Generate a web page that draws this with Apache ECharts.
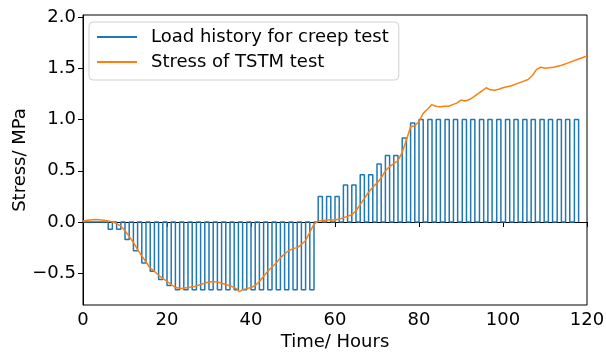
<!DOCTYPE html>
<html>
<head>
<meta charset="utf-8">
<script src="https://cdn.jsdelivr.net/npm/echarts@6/dist/echarts.min.js"></script>
<style>
  html, body { margin: 0; padding: 0; background: #fff; }
  #chart { width: 606px; height: 352px; }
</style>
</head>
<body>
<div id="chart"></div>
<script>
// Creep-test load pulses: start hour and stress level (MPa); each pulse lasts pulseLength hours
const pulseLength = 1;
const pulseStart = [
  6, 8, 10, 12, 14, 16, 18, 20, 22, 24, 26, 28, 30, 32, 34, 36, 38, 40, 42, 44, 46, 48, 50, 52, 54,
  56, 58, 60, 62, 64, 66, 68, 70, 72, 74, 76, 78,
  80, 82.1, 84.1, 86.2, 88.2, 90.3, 92.3, 94.4, 96.4, 98.5, 100.6, 102.6, 104.7, 106.7, 108.8,
  110.8, 112.9, 114.9, 117
];
const pulseLevel = [
  -0.07, -0.07, -0.17, -0.28, -0.40, -0.48, -0.56, -0.62, -0.66, -0.66, -0.66, -0.66, -0.66,
  -0.66, -0.66, -0.66, -0.66, -0.66, -0.66, -0.66, -0.66, -0.66, -0.66, -0.66, -0.66,
  0.25, 0.25, 0.25, 0.36, 0.36, 0.46, 0.46, 0.565, 0.65, 0.65, 0.82, 0.965,
  1.0, 1.0, 1.0, 1.0, 1.0, 1.0, 1.0, 1.0, 1.0, 1.0, 1.0, 1.0, 1.0, 1.0, 1.0, 1.0, 1.0, 1.0, 1.0
];

// Measured TSTM stress (MPa) over time (hours)
const stressTime = [
  0, 1.5, 3, 4.5, 6, 7.5, 9, 10, 11, 12, 13, 14, 15, 16, 17, 18, 19, 20, 21, 22, 23.5, 25,
  26.5, 28, 29.5, 31, 32.5, 34, 35.5, 36.5, 37.2, 38, 39, 40, 41, 42, 43, 44, 45, 46, 47, 48,
  49, 50, 51, 52, 53, 54, 55, 56, 57, 58.5, 60, 61.5, 63, 64, 65, 66, 67, 68, 69, 70, 71, 72,
  73, 74, 75, 76, 77, 78, 79, 80, 81, 82, 83, 84, 85, 86, 87, 88, 89, 90, 91, 92, 93, 94, 95,
  96, 97, 98, 99, 100, 102, 104, 106, 107, 108, 109, 110, 112, 114, 116, 118, 120
];
const stressValue = [
  0.01, 0.02, 0.025, 0.02, 0.01, -0.005, -0.04, -0.085, -0.14, -0.20, -0.27, -0.33, -0.39,
  -0.45, -0.48, -0.52, -0.55, -0.58, -0.61, -0.64, -0.65, -0.64, -0.63, -0.61, -0.59, -0.58,
  -0.59, -0.61, -0.63, -0.65, -0.68, -0.66, -0.65, -0.64, -0.62, -0.58, -0.53, -0.48, -0.44,
  -0.40, -0.35, -0.31, -0.28, -0.26, -0.25, -0.22, -0.18, -0.10, -0.02, 0.01, 0.015, 0.02,
  0.02, 0.035, 0.055, 0.07, 0.11, 0.17, 0.23, 0.29, 0.34, 0.38, 0.43, 0.50, 0.54, 0.57, 0.60,
  0.68, 0.80, 0.93, 0.94, 0.98, 1.06, 1.10, 1.145, 1.13, 1.125, 1.13, 1.13, 1.145, 1.16, 1.19,
  1.18, 1.195, 1.22, 1.25, 1.28, 1.31, 1.29, 1.285, 1.295, 1.31, 1.33, 1.36, 1.39, 1.43, 1.49,
  1.51, 1.50, 1.51, 1.53, 1.56, 1.59, 1.62
];

// Y tick labels
const yTicks = [-0.5, 0.0, 0.5, 1.0, 1.5, 2.0];

// Square-wave outline of the load history
const loadData = [[0, 0]];
pulseStart.forEach((s, i) => {
  const L = pulseLevel[i];
  loadData.push([s, 0], [s, L], [s + pulseLength, L], [s + pulseLength, 0]);
});
const stressData = stressTime.map((t, i) => [t, stressValue[i]]);

const font = 'DejaVu Sans';
const fs = 18;
const chart = echarts.init(document.getElementById('chart'), null, { renderer: 'canvas' });
chart.setOption({
  animation: false,
  backgroundColor: '#fff',
  textStyle: { fontFamily: font },
  grid: {
    left: 83, right: 19, top: 15, bottom: 47,
    containLabel: false, outerBoundsMode: 'none',
    show: true, borderColor: '#000', borderWidth: 1
  },
  legend: {
    orient: 'vertical',
    left: 89,
    top: 22,
    padding: [6, 10, 9, 8],
    itemGap: 7,
    itemWidth: 40,
    itemHeight: 2,
    icon: 'rect',
    borderColor: '#d0d0d0',
    borderWidth: 1,
    borderRadius: 4,
    backgroundColor: 'rgba(255,255,255,0.8)',
    textStyle: { fontFamily: font, fontSize: fs, color: '#000', padding: [0, 0, 0, 9] },
    data: ['Load history for creep test', 'Stress of TSTM test']
  },
  xAxis: {
    type: 'value',
    min: 0,
    max: 120,
    interval: 20,
    name: 'Time/ Hours',
    nameLocation: 'middle',
    nameGap: 28,
    nameMoveOverlap: false,
    nameTextStyle: { fontFamily: font, fontSize: fs, color: '#000' },
    axisLine: { lineStyle: { color: '#000', width: 1 } },
    axisTick: { show: true, inside: false, length: 5, lineStyle: { color: '#000' } },
    axisLabel: { fontFamily: font, fontSize: fs, color: '#000', margin: 6 },
    splitLine: { show: false }
  },
  yAxis: {
    type: 'value',
    min: -0.81,
    max: 2.02,
    name: 'Stress/ MPa',
    nameLocation: 'middle',
    nameGap: 54,
    nameMoveOverlap: false,
    nameRotate: 90,
    nameTextStyle: { fontFamily: font, fontSize: fs, color: '#000' },
    axisLine: { show: true, lineStyle: { color: '#000', width: 1 } },
    axisTick: { show: true, length: 5, customValues: yTicks, lineStyle: { color: '#000' } },
    axisLabel: {
      fontFamily: font, fontSize: fs, color: '#000', margin: 7,
      customValues: yTicks,
      formatter: v => (v < 0 ? '\u2212' : '') + Math.abs(v).toFixed(1)
    },
    splitLine: { show: false }
  },
  series: [
    {
      name: 'Load history for creep test',
      type: 'line',
      data: loadData,
      showSymbol: false,
      symbol: 'none',
      color: '#1f77b4',
      lineStyle: { color: '#1f77b4', width: 1.5 },
      z: 2
    },
    {
      name: 'Stress of TSTM test',
      type: 'line',
      data: stressData,
      showSymbol: false,
      symbol: 'none',
      color: '#ff7f0e',
      lineStyle: { color: '#ff7f0e', width: 1.5 },
      z: 3
    }
  ]
});
</script>
</body>
</html>
